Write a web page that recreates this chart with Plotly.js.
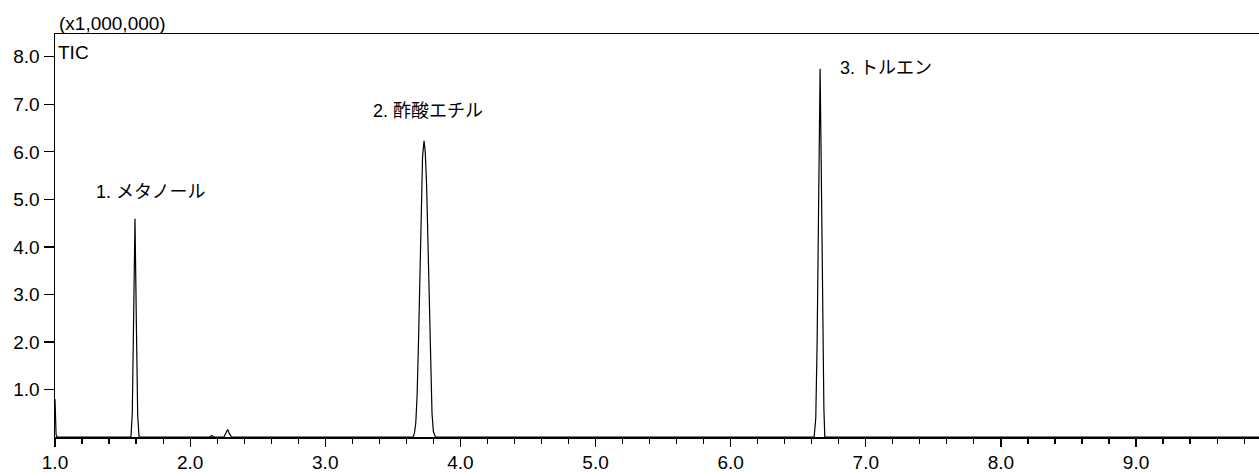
<!DOCTYPE html>
<html>
<head>
<meta charset="utf-8">
<script src="https://cdn.plot.ly/plotly-3.0.1.min.js"></script>
<style>
html,body{margin:0;padding:0;background:#fff;}
#chart{width:1259px;height:472px;}
</style>
</head>
<body>
<div id="chart"></div>
<script>
// Retention time (min) and TIC intensity (x1,000,000)
const startT  = [1.000, 1.004, 1.008, 1.015];
const startI  = [0.80, 0.35, 0.05, 0.0];
const peak1T  = [1.562, 1.572, 1.582, 1.592, 1.602, 1.612, 1.622];
const peak1I  = [0.0, 0.5, 2.5, 4.59, 2.4, 0.45, 0.0];
const minorT  = [2.145, 2.16, 2.175, 2.25, 2.265, 2.278, 2.291, 2.306];
const minorI  = [0.0, 0.03, 0.0, 0.0, 0.08, 0.16, 0.07, 0.0];
const peak2T  = [3.650, 3.660, 3.670, 3.680, 3.690, 3.700, 3.710, 3.720, 3.731, 3.740, 3.750, 3.760, 3.770, 3.780, 3.790, 3.800, 3.815];
const peak2I  = [0.0, 0.08, 0.3, 0.9, 2.0, 3.5, 4.9, 5.9, 6.235, 6.0, 5.3, 4.0, 2.6, 1.3, 0.5, 0.12, 0.0];
const peak3T  = [6.618, 6.630, 6.640, 6.650, 6.662, 6.670, 6.680, 6.690, 6.697];
const peak3I  = [0.0, 0.4, 2.0, 4.6, 7.75, 5.8, 2.6, 0.6, 0.0];
const endT    = [9.91];
const endI    = [0.0];

const xTicks      = [1, 2, 3, 4, 5, 6, 7, 8, 9];
const xTickLabels = ["1.0", "2.0", "3.0", "4.0", "5.0", "6.0", "7.0", "8.0", "9.0"];
const yTicks      = [1, 2, 3, 4, 5, 6, 7, 8];
const yTickLabels = ["1.0", "2.0", "3.0", "4.0", "5.0", "6.0", "7.0", "8.0"];

const peakNames = ["1. メタノール", "2. 酢酸エチル", "3. トルエン"];
const peakLabelX = [1.703, 3.761, 7.151];
const peakLabelY = [5.16, 6.87, 7.77];

const t = [].concat(startT, peak1T, minorT, peak2T, peak3T, endT);
const inten = [].concat(startI, peak1I, minorI, peak2I, peak3I, endI);

const FONT = "Liberation Sans, Arial, 'Noto Sans CJK JP', sans-serif";

const trace = {
  x: t, y: inten, type: 'scatter', mode: 'lines',
  line: {color: '#000', width: 1.2},
  hoverinfo: 'skip'
};

const annotations = peakNames.map((n, i) => ({
  x: peakLabelX[i], y: peakLabelY[i], xref: 'x', yref: 'y',
  text: n, showarrow: false, xanchor: 'center', yanchor: 'middle',
  font: {family: FONT, size: 18, color: '#000'}
}));
annotations.push({
  x: 0, y: 0.955, xref: 'paper', yref: 'paper', xanchor: 'left', yanchor: 'middle',
  xshift: 1, text: 'TIC', showarrow: false,
  font: {family: FONT, size: 19, color: '#000'}
});
annotations.push({
  x: 0, y: 1.025, xref: 'paper', yref: 'paper', xanchor: 'left', yanchor: 'middle',
  xshift: 2, text: '(x1,000,000)', showarrow: false,
  font: {family: FONT, size: 19, color: '#000'}
});

const layout = {
  width: 1259, height: 472,
  margin: {l: 55, r: 0, t: 34, b: 35, pad: 0},
  paper_bgcolor: '#fff', plot_bgcolor: '#fff',
  showlegend: false,
  font: {family: FONT, size: 19, color: '#000'},
  xaxis: {
    range: [1.0, 9.91], showgrid: false, zeroline: false,
    showline: true, linecolor: '#000', linewidth: 1.5, mirror: true,
    ticks: 'outside', ticklen: 8, tickwidth: 1.2, tickcolor: '#000',
    tickmode: 'array', tickvals: xTicks, ticktext: xTickLabels,
    tickfont: {family: FONT, size: 19, color: '#000'},
    minor: {dtick: 0.2, tick0: 1, ticks: 'outside', ticklen: 5, tickwidth: 1.2, tickcolor: '#000', showgrid: false}
  },
  yaxis: {
    range: [0, 8.48], showgrid: false, zeroline: false,
    showline: true, linecolor: '#000', linewidth: 1.5, mirror: false,
    ticks: 'outside', ticklen: 10, tickwidth: 1.2, tickcolor: '#000',
    tickmode: 'array', tickvals: yTicks, ticktext: yTickLabels,
    tickfont: {family: FONT, size: 19, color: '#000'}
  },
  annotations: annotations
};

Plotly.newPlot('chart', [trace], layout, {displayModeBar: false, staticPlot: true});
</script>
</body>
</html>
